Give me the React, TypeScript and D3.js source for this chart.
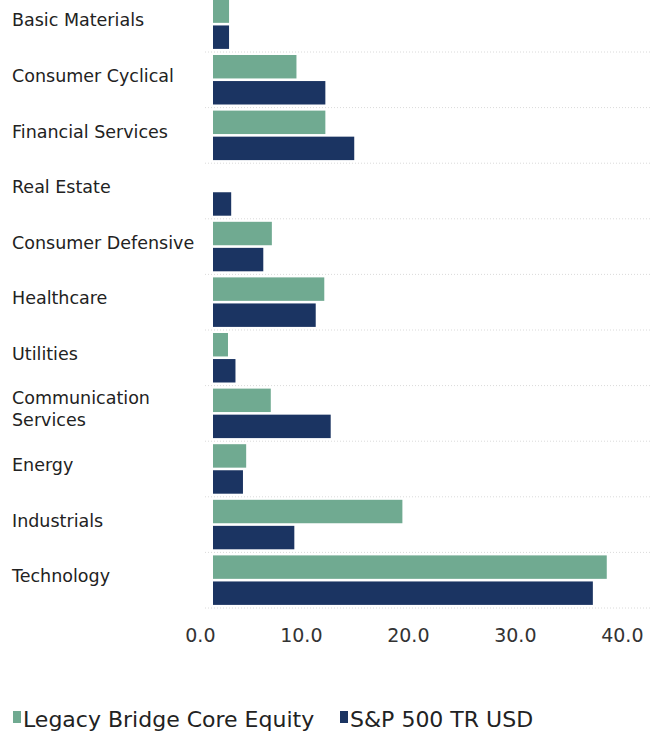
import * as d3 from "d3";
import { useEffect, useRef } from "react";

// sector weights (%)
const categories = [
    "Basic Materials", "Consumer Cyclical", "Financial Services", "Real Estate",
    "Consumer Defensive", "Healthcare", "Utilities", "Communication Services",
    "Energy", "Industrials", "Technology",
];
const fundValues = [1.5, 7.8, 10.5, 0, 5.5, 10.4, 1.4, 5.4, 3.1, 17.7, 36.8];
const indexValues = [1.5, 10.5, 13.2, 1.7, 4.7, 9.6, 2.1, 11.0, 2.8, 7.6, 35.5];
const seriesNames = ["Legacy Bridge Core Equity", "S&P 500 TR USD"];
const seriesColors = ["#70aa91", "#1b3462"];
const xTicks = [0, 10, 20, 30, 40];

const W = 656, H = 734;
const FONT = "'DejaVu Sans', Verdana, sans-serif";

export default function App() {
    const ref = useRef<SVGSVGElement>(null);

    useEffect(() => {
        const svg = d3.select(ref.current);
        svg.selectAll("*").remove();

        const x = d3.scaleLinear().domain([0, 40]).range([213, 641]);
        const y = d3.scaleBand().domain(categories).range([-3.6, 608]).paddingInner(0);
        const ySub = d3.scaleBand().domain(seriesNames).range([3, 52.5]).paddingInner(0.1);

        // dotted row separators
        svg.append("g")
            .selectAll("line")
            .data(categories)
            .join("line")
            .attr("x1", 205).attr("x2", 650)
            .attr("y1", d => y(d)! + y.bandwidth())
            .attr("y2", d => y(d)! + y.bandwidth())
            .attr("stroke", "#dadada")
            .attr("stroke-width", 1)
            .attr("stroke-dasharray", "1,2");

        // bars
        const rows = categories.map((c, i) => ({ c, vals: [fundValues[i], indexValues[i]] }));
        const g = svg.append("g");
        rows.forEach(r => {
            g.selectAll(null)
                .data(r.vals)
                .join("rect")
                .attr("x", x(0))
                .attr("y", (_, j) => y(r.c)! + ySub(seriesNames[j])!)
                .attr("width", v => x(v) - x(0))
                .attr("height", ySub.bandwidth())
                .attr("fill", (_, j) => seriesColors[j]);
        });

        // category labels
        const labels = svg.append("g")
            .attr("font-family", FONT)
            .attr("font-size", 17.5)
            .attr("fill", "#222");
        categories.forEach(c => {
            const top = y(c)!;
            if (c === "Communication Services") {
                labels.append("text").attr("x", 12).attr("y", top + 13.5)
                    .attr("dominant-baseline", "middle").text("Communication");
                labels.append("text").attr("x", 12).attr("y", top + 35.5)
                    .attr("dominant-baseline", "middle").text("Services");
            } else {
                labels.append("text").attr("x", 12).attr("y", top + 25)
                    .attr("dominant-baseline", "middle").text(c);
            }
        });

        // x axis
        const axis = svg.append("g")
            .attr("transform", "translate(0,625)")
            .call(d3.axisBottom(x).tickValues(xTicks).tickSize(0).tickFormat(d3.format(".1f")));
        axis.select(".domain").remove();
        axis.selectAll("text")
            .attr("text-anchor", "end")
            .attr("dx", 2)
            .attr("font-family", FONT)
            .attr("font-size", 19)
            .attr("fill", "#333");

        // legend
        const legendX = [13, 340];
        const lg = svg.append("g");
        seriesNames.forEach((s, i) => {
            lg.append("rect")
                .attr("x", legendX[i]).attr("y", 711)
                .attr("width", 8).attr("height", 12)
                .attr("fill", seriesColors[i]);
            lg.append("text")
                .attr("x", legendX[i] + 10).attr("y", 727)
                .attr("font-family", FONT)
                .attr("font-size", 22)
                .attr("fill", "#222")
                .text(s);
        });
    }, []);

    return (
        <svg ref={ref} width={W} height={H}
            style={{ position: "absolute", left: 0, top: 0, background: "#fff" }} />
    );
}
